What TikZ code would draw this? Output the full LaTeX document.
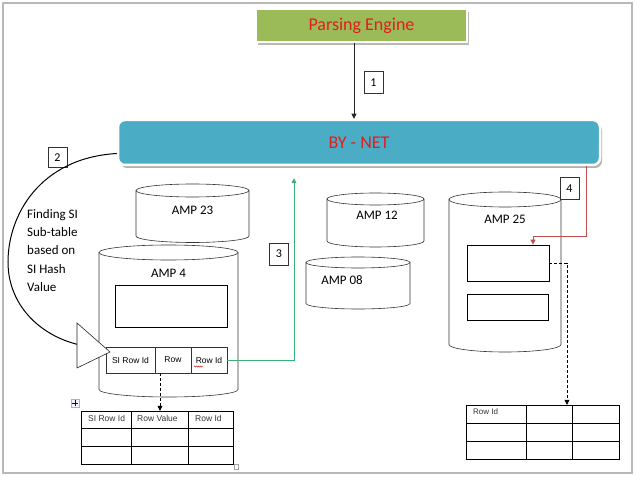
\documentclass[tikz,border=0pt]{standalone}
\usepackage{fontspec}
\setmainfont{Carlito}
\newfontfamily\arialf{Liberation Sans}
\usetikzlibrary{arrows.meta,decorations.pathmorphing,shadows,calc}
\definecolor{pegreen}{HTML}{9BBB59}
\definecolor{bycyan}{HTML}{4BACC6}
\definecolor{txtred}{HTML}{E21D1D}
\definecolor{arrred}{HTML}{C0504D}
\definecolor{arrgreen}{HTML}{3AAE78}
\newcommand\drum[5]{%
  \draw[cylline] (#1,#3) -- (#1,#4) arc[start angle=180,end angle=0,x radius={(#2-#1)/2},y radius=#5] -- (#2,#3);
  \draw[cylline] ({(#1+#2)/2},#3) ellipse[x radius={(#2-#1)/2},y radius=#5];
}
\begin{document}
\begin{tikzpicture}[x=1pt,y=-1pt,
  cylline/.style={draw=black!80,line width=0.6pt},
  numbox/.style={draw=black!80,fill=white,line width=0.6pt,minimum width=19pt,minimum height=22pt,inner sep=0pt,font=\fontsize{12}{14}\selectfont},
  amplabel/.style={font=\fontsize{13}{15}\selectfont,inner sep=0pt},
  cell/.style={draw=black!80,line width=0.6pt,inner sep=0pt,font=\arialf\fontsize{8.5}{10}\selectfont},
  gridline/.style={draw=black,line width=0.7pt},
  tbltext/.style={font=\arialf\fontsize{8.5}{10}\selectfont,inner sep=0pt,anchor=west,text=black!80},
  inner/.style={draw=black,line width=0.7pt,inner sep=0pt},
  tip/.style={-{Triangle[length=5pt,width=5pt]}}
]
\useasboundingbox (0,0) rectangle (640,481);
% frame
\draw[gray!55,line width=1.6pt] (3,3) rectangle (632,473);

% Parsing engine
\node[fill=pegreen,draw=white,line width=2pt,minimum width=211pt,minimum height=33pt,
      drop shadow={shadow xshift=2pt,shadow yshift=-3pt,fill=gray!55,opacity=1},
      text=txtred,font=\fontsize{18}{20}\selectfont] (PE) at (361.5,25.5) {Parsing Engine};

% BY-NET
\node[fill=bycyan,draw=white,line width=2.5pt,rounded corners=7pt,minimum width=482pt,minimum height=45pt,
      drop shadow={shadow xshift=2pt,shadow yshift=-3pt,fill=gray!60,opacity=1},
      text=txtred,font=\fontsize{18}{20}\selectfont] (BY) at (359,142.5) {BY - NET};

% arrow 1
\draw[black!85,line width=0.7pt,tip] (PE.south -| 354,0) -- (BY.north -| 354,0);
\node[numbox] (n1) at (373.5,82.5) {1};

% cylinders
\drum{136}{249}{190.5}{236}{6.5}
\node[amplabel] (amp23) at (192.5,210) {AMP 23};
\drum{99}{238}{252.5}{389.5}{7.5}
\node[amplabel] (amp4) at (168.5,273) {AMP 4};
\drum{327}{424}{199}{241}{6}
\node[amplabel] (amp12) at (377,215) {AMP 12};
\drum{306}{410}{262.5}{303.5}{5.5}
\node[amplabel] (amp08) at (342,280) {AMP 08};
\drum{449}{561}{199.5}{344.5}{7.5}
\node[amplabel] (amp25) at (505,219) {AMP 25};

% AMP4 inner
\node[inner,minimum width=112pt,minimum height=42pt] (A4box) at (171,306) {};
\node[cell,minimum width=49pt,minimum height=26pt] (c1) at (130.5,360) {SI Row Id};
\node[cell,minimum width=36pt,minimum height=26pt] (c2) at (173,360) {Row};
\node[cell,minimum width=36pt,minimum height=26pt] (c3) at (209,360) {Row Id};
\draw[red!80!black,line width=0.4pt,decorate,decoration={snake,amplitude=0.6pt,segment length=2pt}] (194,366.5) -- (203,366.5);

% AMP25 inner
\node[inner,minimum width=82pt,minimum height=36pt] (R1) at (508,263) {};
\node[inner,minimum width=81pt,minimum height=26pt] (R2) at (507.5,307) {};

% number boxes
\node[numbox,minimum height=20pt] (n2) at (57.5,157.5) {2};
\node[numbox] (n3) at (279,254) {3};
\node[numbox] (n4) at (569.5,188.5) {4};

% curved arrow 2
\draw[black,line width=1pt] ([yshift=-11pt]BY.west) .. controls (40,158) and (8,215) .. (8,262) .. controls (8,305) and (40,336) .. (80,345);
\draw[black!85,fill=white,line width=0.6pt] (77,323) -- (110,352) -- (77,368) -- cycle;
\node[font=\fontsize{13}{18.3}\selectfont,align=left,inner sep=0pt,anchor=north west] (find) at (27,209)
  {Finding SI\\Sub-table\\based on\\SI Hash\\Value};

% green arrow 3
\coordinate (gbend) at (294,360);
\draw[arrgreen,line width=0.8pt,-{Triangle[length=5pt,width=5pt]}] (c3.east) -- (gbend) -- ([yshift=-12pt]BY.south -| gbend);

% red arrow 4
\coordinate (rtop) at (586,166);
\coordinate (rbend) at (586,236);
\draw[arrred,line width=0.8pt,-{Triangle[length=5pt,width=5pt]}] (rtop) -- (rbend) -- (rbend -| 533,0) -- (R1.north -| 533,0);

% bottom left table
\node[inner sep=0pt,minimum width=152pt,minimum height=53pt] (T1) at (157,437.5) {};
\draw[gridline] (81,411) rectangle (233,464);
\draw[gridline] (81,428) -- (233,428) (81,446) -- (233,446) (131,411) -- (131,464) (188,411) -- (188,464);
\node[tbltext] (t1a) at (88,418) {SI Row Id};
\node[tbltext] (t1b) at (137,418) {Row Value};
\node[tbltext] (t1c) at (195,418) {Row Id};
% table handles
\node[draw=blue!35,fill=blue!5,minimum size=8pt,inner sep=0pt] (mv) at (75,403) {};
\draw[blue!70!black,line width=0.5pt] ([xshift=-3pt]mv.center) -- ([xshift=3pt]mv.center) ([yshift=-3pt]mv.center) -- ([yshift=3pt]mv.center);
\node[draw=gray!70,fill=white,minimum size=4.5pt,inner sep=0pt] (rs) at (236,466.5) {};

% dashed arrow from AMP4
\draw[black,line width=0.7pt,dash pattern=on 3pt off 2pt,tip] (c2.south -| 160,0) -- (T1.north -| 160,0);

% bottom right table
\node[inner sep=0pt,minimum width=153pt,minimum height=54pt] (T2) at (542.5,432) {};
\draw[gridline] (466,405) rectangle (619,459);
\draw[gridline] (466,423) -- (619,423) (466,441) -- (619,441) (526,405) -- (526,459) (572,405) -- (572,459);
\node[tbltext,font=\arialf\fontsize{8}{10}\selectfont] (t2a) at (473,412) {Row Id};

% dashed arrow from AMP25
\coordinate (dbend) at (567,263);
\draw[black,line width=0.7pt,dash pattern=on 3pt off 2pt,tip] (R1.east) -- (dbend) -- (T2.north -| dbend);
\end{tikzpicture}
\end{document}
